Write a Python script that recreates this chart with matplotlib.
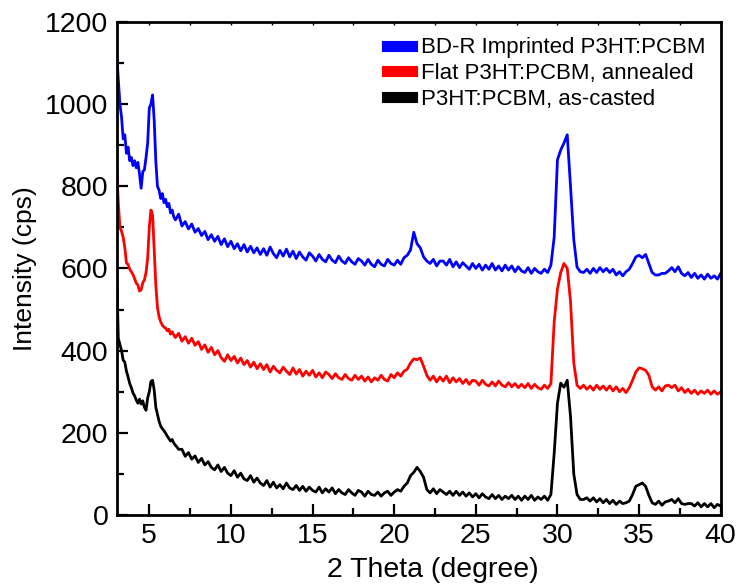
"""
XRD patterns of P3HT:PCBM films (imprinted / annealed / as-casted)
"""
import numpy as np
import matplotlib
matplotlib.use("Agg")
import matplotlib.pyplot as plt
from matplotlib.ticker import MultipleLocator

plt.rcParams['font.family'] = ['Liberation Sans', 'DejaVu Sans']

# 2 theta sampling: fine near the low-angle peak, coarser after
two_theta = np.round(np.concatenate([np.arange(3.0, 6.55, 0.1),
                                     np.arange(6.6, 40.05, 0.2)]), 1)

labels = ['BD-R Imprinted P3HT:PCBM',
          'Flat P3HT:PCBM, annealed',
          'P3HT:PCBM, as-casted']
colors = ['#0000ff', '#ff0000', '#000000']

# ---- BD-R imprinted (blue) ----
blue_low = [1127, 1060, 1000, 968, 915, 925, 880, 895, 862, 870,
            850, 862, 845, 858, 830, 795, 835, 840, 870, 905,
            990, 1000, 1022, 960, 860, 800, 790, 770, 782, 760,
            768, 750, 758, 735, 742, 725]
blue_high = [718, 732,
             703, 714, 696, 708, 688,
             697, 680, 690, 670, 682,
             666, 678, 658, 672, 653,
             666, 648, 660, 643, 658,
             640, 654, 638, 650, 634,
             648, 632, 652, 636, 626,
             644, 630, 647, 628, 642,
             624, 640, 628, 620, 638,
             630, 618, 634, 622, 616,
             632, 620, 614, 630, 618,
             612, 626, 616, 610, 624,
             618, 608, 622, 610, 604,
             620, 610, 606, 622, 612,
             608, 620, 610, 626, 632,
             645, 688, 660, 650, 628,
             618, 612, 622, 606, 618,
             618, 608, 622, 604, 616,
             602, 614, 606, 598, 612,
             600, 610, 596, 608, 598,
             612, 596, 606, 594, 608,
             596, 606, 592, 604, 594,
             590, 602, 588, 600, 592,
             588, 598, 590, 608, 676,
             864, 888, 905, 925, 800,
             670, 603, 592, 590, 598,
             588, 600, 590, 602, 592,
             600, 590, 598, 584, 592,
             582, 592, 598, 612, 628,
             632, 626, 634, 612, 590,
             584, 584, 588, 588, 594,
             602, 592, 604, 588, 582,
             590, 578, 588, 576, 584,
             574, 586, 576, 582, 574,
             588]

# ---- flat, annealed (red) ----
red_low = [851, 760, 700, 690, 676, 650, 613, 610, 598, 592,
           585, 575, 564, 560, 545, 548, 565, 572, 590, 625,
           700, 742, 730, 645, 560, 505, 482, 470, 462, 457,
           455, 448, 452, 440, 446, 438]
red_high = [432, 442,
            423, 434, 418, 430, 413,
            422, 403, 414, 396, 408,
            390, 400, 383, 374, 390,
            376, 386, 370, 382, 366,
            376, 360, 372, 356, 368,
            354, 366, 348, 362, 352,
            346, 360, 350, 342, 358,
            343, 354, 338, 350, 340,
            352, 336, 346, 334, 348,
            342, 332, 344, 334, 330,
            342, 332, 328, 340, 330,
            338, 326, 336, 324, 334,
            328, 340, 330, 326, 342,
            334, 346, 338, 350, 355,
            370, 380, 378, 382, 362,
            340, 328, 338, 324, 336,
            326, 338, 322, 334, 324,
            332, 320, 330, 318, 328,
            326, 316, 328, 318, 314,
            324, 314, 326, 316, 312,
            322, 312, 320, 310, 318,
            310, 320, 308, 318, 310,
            306, 316, 308, 320, 470,
            550, 590, 612, 600, 520,
            370, 316, 308, 316, 306,
            314, 304, 316, 306, 314,
            304, 314, 302, 312, 300,
            308, 298, 310, 328, 348,
            358, 356, 352, 340, 312,
            304, 312, 302, 314, 316,
            310, 316, 302, 310, 298,
            306, 296, 304, 294, 302,
            296, 304, 294, 302, 294,
            300]

# ---- as-casted (black) ----
black_low = [600, 430, 415, 400, 377, 372, 350, 336, 320, 310,
             297, 290, 280, 272, 282, 270, 278, 262, 255, 285,
             300, 325, 328, 304, 262, 245, 228, 216, 210, 205,
             199, 192, 186, 180, 184, 175]
black_high = [170, 160,
              160, 143, 152, 136, 144,
              128, 138, 122, 130, 116,
              110, 122, 106, 116, 102,
              96, 108, 92, 102, 88,
              84, 96, 80, 90, 78,
              72, 84, 68, 80, 66,
              74, 64, 78, 66, 62,
              72, 60, 70, 58, 68,
              60, 56, 68, 54, 64,
              56, 66, 52, 62, 54,
              50, 62, 54, 48, 60,
              56, 46, 58, 50, 48,
              56, 46, 54, 58, 48,
              56, 62, 58, 70, 78,
              96, 104, 116, 106, 92,
              62, 54, 64, 52, 62,
              56, 50, 58, 48, 58,
              48, 56, 46, 54, 44,
              52, 42, 52, 44, 40,
              50, 40, 48, 38, 46,
              40, 48, 38, 46, 36,
              46, 38, 48, 36, 44,
              38, 46, 36, 50, 150,
              272, 321, 311, 328, 240,
              100, 50, 38, 38, 42,
              34, 42, 32, 40, 30,
              38, 28, 36, 26, 34,
              28, 30, 34, 50, 70,
              74, 78, 70, 48, 30,
              26, 34, 24, 32, 34,
              38, 30, 40, 28, 26,
              28, 28, 22, 30, 20,
              28, 20, 28, 18, 26,
              22]

series = [blue_low + blue_high, red_low + red_high, black_low + black_high]

fig = plt.figure(figsize=(7.43, 5.88), dpi=100)
ax = fig.add_axes([0.157, 0.124, 0.813, 0.839])

for y, lab, col in zip(series, labels, colors):
    assert len(y) == len(two_theta)
    ax.plot(two_theta, y, color=col, lw=2.0, label=lab)

ax.set_xlim(3, 40)
ax.set_ylim(0, 1200)
ax.xaxis.set_major_locator(MultipleLocator(5))
ax.xaxis.set_minor_locator(MultipleLocator(2.5))
ax.yaxis.set_major_locator(MultipleLocator(200))
ax.yaxis.set_minor_locator(MultipleLocator(100))

ax.tick_params(which='both', direction='in', width=1.6, labelsize=20.5,
               top=False, right=False)
ax.tick_params(which='major', length=8, pad=6)
ax.tick_params(which='minor', length=5)
for sp in ax.spines.values():
    sp.set_linewidth(2)

# tiny ticks along the top edge
sec = ax.secondary_xaxis('top')
sec.xaxis.set_major_locator(MultipleLocator(2.5))
sec.tick_params(direction='in', length=2.5, width=1, labeltop=False)
sec.spines['top'].set_visible(False)

ax.set_xlabel('2 Theta (degree)', fontsize=20.5, labelpad=4)
ax.xaxis.set_label_coords(0.524, -0.085)
ax.set_ylabel('Intensity (cps)', fontsize=19, labelpad=6)

leg = ax.legend(loc='upper right', frameon=False, fontsize=16,
                handlelength=1.1, handletextpad=0.4, labelspacing=0.22,
                borderaxespad=0.3)
for h in leg.get_lines():
    h.set_linewidth(8)

fig.savefig('out.png', dpi=100)
